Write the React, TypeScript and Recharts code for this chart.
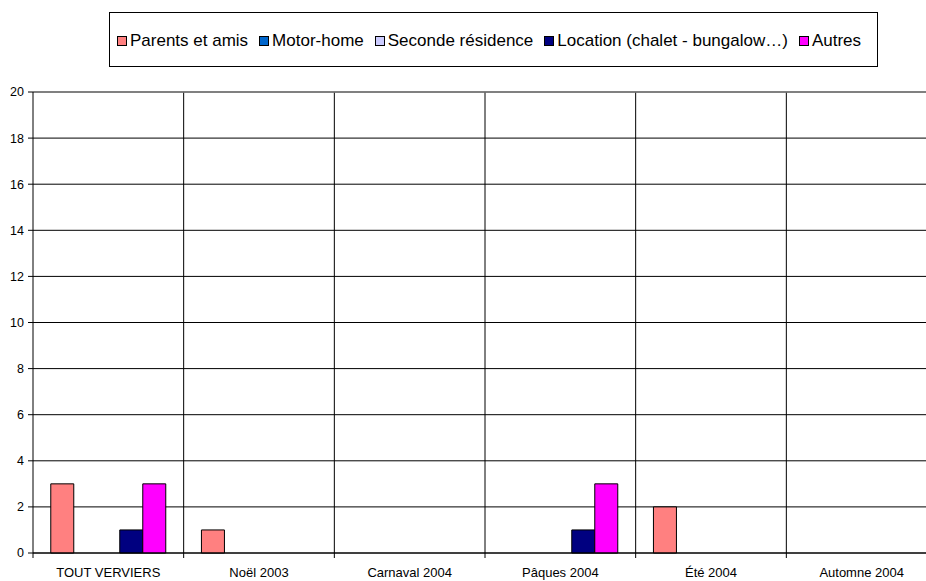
import { BarChart, Bar, XAxis, YAxis, CartesianGrid, ReferenceLine } from 'recharts';

const categories = ['TOUT VERVIERS', 'Noël 2003', 'Carnaval 2004', 'Pâques 2004', 'Été 2004', 'Automne 2004'];
const parentsEtAmis = [3, 1, 0, 0, 2, 0];
const motorHome = [0, 0, 0, 0, 0, 0];
const secondeResidence = [0, 0, 0, 0, 0, 0];
const locationChalet = [1, 0, 0, 1, 0, 0];
const autres = [3, 0, 0, 3, 0, 0];
const yTicks = [0, 2, 4, 6, 8, 10, 12, 14, 16, 18, 20];

const series = [
  { key: 'parents', name: 'Parents et amis', color: '#FF8080', values: parentsEtAmis },
  { key: 'motor', name: 'Motor-home', color: '#0066CC', values: motorHome },
  { key: 'seconde', name: 'Seconde résidence', color: '#CCCCFF', values: secondeResidence },
  { key: 'location', name: 'Location (chalet - bungalow…)', color: '#000080', values: locationChalet },
  { key: 'autres', name: 'Autres', color: '#FF00FF', values: autres },
];

const data = categories.map((cat, i) => {
  const row: Record<string, string | number> = { cat };
  series.forEach((s) => { row[s.key] = s.values[i]; });
  return row;
});

const W = 940;
const H = 581;
const M = { top: 92, right: 3, left: 0, bottom: 0 };
const Y_W = 33;
const X_H = 28;
const band = (W - M.left - M.right - Y_W) / categories.length;
const font = '"Liberation Sans", Arial, sans-serif';

function XTick({ x, y, payload }: any) {
  const left = x - band / 2;
  return (
    <g>
      <line x1={left} y1={y} x2={left} y2={y + 5} stroke="#000" />
      <text x={x} y={y + 24} textAnchor="middle" fontSize={13} fontFamily={font} fill="#000">
        {payload.value}
      </text>
    </g>
  );
}

export default function App() {
  return (
    <div style={{ position: 'absolute', left: 0, top: 0, width: 926, height: 581, overflow: 'hidden', background: '#fff' }}>
      <div
        style={{
          position: 'absolute', left: 109, top: 12, width: 769, height: 55,
          border: '1px solid #000', boxSizing: 'border-box', display: 'flex',
          alignItems: 'center', paddingLeft: 7, paddingTop: 3, fontFamily: font, fontSize: 17,
        }}
      >
        {series.map((s) => (
          <div key={s.key} style={{ display: 'flex', alignItems: 'center', marginRight: 11 }}>
            <span style={{ width: 10, height: 10, boxSizing: 'border-box', background: s.color, border: '1px solid #000', marginRight: 3 }} />
            <span>{s.name}</span>
          </div>
        ))}
      </div>
      <BarChart width={W} height={H} data={data} margin={M} barCategoryGap="11.8%" barGap={0}>
        <CartesianGrid
          stroke="#000"
          verticalCoordinatesGenerator={({ offset }: any) =>
            categories.map((_, i) => offset.left + (i + 1) * (offset.width / categories.length))
          }
        />
        <ReferenceLine y={20} stroke="#808080" strokeWidth={1.5} />
        <XAxis
          dataKey="cat"
          height={X_H}
          tickSize={0}
          tickMargin={0}
          tickLine={false}
          axisLine={{ stroke: '#000' }}
          interval={0}
          tick={<XTick />}
        />
        <YAxis
          width={Y_W}
          domain={[0, 20]}
          ticks={yTicks}
          interval={0}
          tickSize={5}
          tickMargin={4}
          axisLine={{ stroke: '#000' }}
          tickLine={{ stroke: '#000' }}
          tick={{ fontSize: 12.5, fontFamily: font, fill: '#000' }}
        />
        {series.map((s) => (
          <Bar key={s.key} dataKey={s.key} name={s.name} fill={s.color} stroke="#000" strokeWidth={1} isAnimationActive={false} />
        ))}
      </BarChart>
    </div>
  );
}
